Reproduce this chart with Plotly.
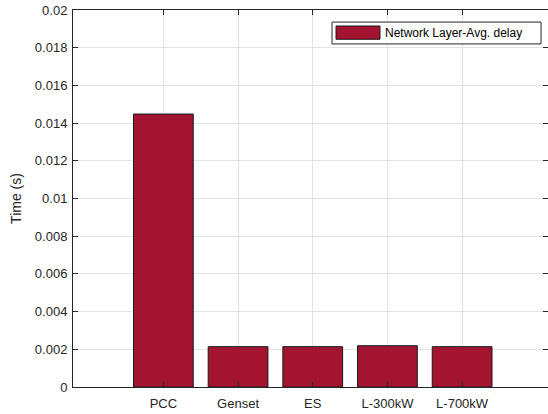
import plotly.graph_objects as go

categories = ["PCC", "Genset", "ES", "L-300kW", "L-700kW"]
positions = [1, 2, 3, 4, 5]
delay = [0.01448, 0.00214, 0.00214, 0.00219, 0.00214]
yticks = [0, 0.002, 0.004, 0.006, 0.008, 0.01, 0.012, 0.014, 0.016, 0.018, 0.02]
ytick_text = ["0", "0.002", "0.004", "0.006", "0.008", "0.01", "0.012", "0.014", "0.016", "0.018", "0.02"]
series_name = "Network Layer-Avg. delay"

FONT = "Liberation Sans, Arial, Helvetica, sans-serif"
BAR_COLOR = "#A2142F"

fig = go.Figure()
fig.add_trace(go.Bar(
    x=positions, y=delay, width=0.8,
    name=series_name, showlegend=False,
    marker=dict(color=BAR_COLOR, line=dict(color="#1a1a1a", width=1)),
))

axis_common = dict(
    showline=True, linecolor="#262626", linewidth=1, mirror="ticks",
    ticks="inside", ticklen=5, tickcolor="#262626",
    showgrid=True, gridcolor="#e3e3e3", gridwidth=1,
    tickfont=dict(family=FONT, size=13, color="#262626"),
    zeroline=False,
)

fig.update_xaxes(range=[-0.21, 6.15], tickmode="array", tickvals=positions,
                 ticktext=categories, ticklabelstandoff=4, **axis_common)
fig.update_yaxes(range=[0, 0.02], tickmode="array", tickvals=yticks, ticktext=ytick_text,
                 ticklabelstandoff=2,
                 title=dict(text="Time (s)", standoff=9,
                            font=dict(family=FONT, size=14, color="#262626")),
                 **axis_common)

# MATLAB-style legend box (paper coordinates; plot area 475 x 377.7 px)
fig.add_shape(type="rect", xref="paper", yref="paper",
              x0=0.5453, x1=0.9853, y0=0.910, y1=0.968,
              fillcolor="white", line=dict(color="#262626", width=1), layer="above")
fig.add_shape(type="rect", xref="paper", yref="paper",
              x0=0.5537, x1=0.6463, y0=0.9224, y1=0.9576,
              fillcolor=BAR_COLOR, line=dict(color="#1a1a1a", width=1), layer="above")
fig.add_annotation(xref="paper", yref="paper", x=0.6526, y=0.939,
                   xanchor="left", yanchor="middle", showarrow=False,
                   text=series_name, font=dict(family=FONT, size=12, color="#000000"))

fig.update_layout(
    width=548, height=414,
    margin=dict(l=73, r=0, t=10, b=27),
    plot_bgcolor="white", paper_bgcolor="white",
    showlegend=False,
)

fig.write_html("out.html", config={"displayModeBar": False},
               post_script="document.body.style.margin='0';document.body.style.padding='0';")
